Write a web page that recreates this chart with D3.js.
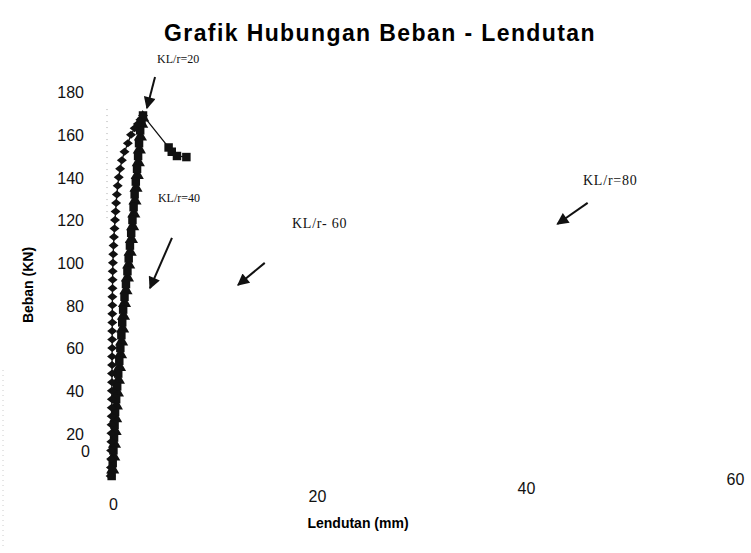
<html lang="en">
<head>
    <meta charset="UTF-8"/>
    <title>Grafik Hubungan Beban - Lendutan</title>
    <style>
        body { margin: 0; background: #fff; }
        svg { display: block; }
        .tick text { font-family: "Liberation Sans", Arial, sans-serif; font-size: 16px; fill: #111; }
        .note { font-family: "Liberation Serif", "Times New Roman", serif; fill: #111; }
    </style>
</head>
<body>
<svg width="751" height="553"></svg>
<script src="https://d3js.org/d3.v7.min.js"></script>
<script>
    // series A (diamonds): load (kN) and deflection (mm)
    const seriesALoad = [0, 4, 8, 12, 16, 20, 24, 28, 32, 36, 40, 44, 48, 52, 56, 60, 64, 68, 72, 76, 80, 84, 88, 92, 96,
        100, 104, 108, 112, 116, 120, 124, 128, 132, 136, 140, 144, 148, 152, 156, 160, 163, 165, 167, 169];
    const seriesADefl = [0.25, 0.28, 0.3, 0.3, 0.32, 0.33, 0.34, 0.35, 0.36, 0.37, 0.37, 0.38, 0.38, 0.39, 0.39, 0.4, 0.4,
        0.4, 0.41, 0.41, 0.42, 0.42, 0.43, 0.44, 0.45, 0.47, 0.5, 0.53, 0.57, 0.62, 0.67, 0.73, 0.78, 0.85, 0.93, 1.03,
        1.16, 1.33, 1.58, 1.9, 2.2, 2.55, 2.85, 3.1, 3.35];

    // series B (squares), includes the descending branch after the peak
    const seriesBLoad = [0, 6, 12, 18, 24, 30, 36, 42, 48, 54, 60, 66, 72, 78, 84, 90, 96, 102, 108, 114, 120, 126, 132,
        138, 144, 150, 156, 162, 166, 169, 154, 152, 150, 149.5];
    const seriesBDefl = [0.35, 0.45, 0.52, 0.58, 0.63, 0.68, 0.78, 0.88, 0.98, 1.08, 1.18, 1.28, 1.36, 1.45, 1.58, 1.72,
        1.86, 1.98, 2.1, 2.22, 2.34, 2.45, 2.55, 2.66, 2.78, 2.88, 2.97, 3.08, 3.2, 3.35, 5.8, 6.1, 6.6, 7.5];

    // series C (triangles)
    const seriesCLoad = [3, 9, 15, 21, 27, 33, 39, 45, 51, 57, 63, 69, 75, 81, 87, 93, 99, 105, 111, 117, 123, 129, 135,
        141, 147, 153, 159, 165, 168];
    const seriesCDefl = [0.45, 0.55, 0.62, 0.68, 0.73, 0.8, 0.9, 1.0, 1.1, 1.2, 1.3, 1.4, 1.48, 1.58, 1.72, 1.86, 1.98,
        2.12, 2.24, 2.36, 2.47, 2.58, 2.68, 2.8, 2.9, 3.0, 3.1, 3.22, 3.32];

    const xTicks = [0, 20, 40, 60];
    const yTicks = [0, 20, 40, 60, 80, 100, 120, 140, 160, 180];

    // annotations in data units: label, text anchor point, arrow start, arrow tip
    const noteLabels = ["KL/r=20", "KL/r=40", "KL/r- 60", "KL/r=80"];
    const noteText = [[4.7, 193.6], [4.78, 128.5], [17.6, 116.3], [45.45, 136.4]];
    const arrowFrom = [[4.5, 187], [6.12, 111.6], [15.0, 99.9], [45.9, 128]];
    const arrowTo = [[3.73, 172.5], [4.02, 88.1], [12.44, 89.5], [43.0, 118.1]];

    const svg = d3.select("svg");

    const x = d3.scaleLinear().domain([0, 60]).range([108, 735]);
    const y = d3.scaleLinear().domain([0, 180]).range([476, 92]);

    // faint scan traces of the axis
    svg.append("line")
        .attr("x1", x(0) - 1).attr("x2", x(0) - 1).attr("y1", y(172)).attr("y2", y(120))
        .attr("stroke", "#aaa").attr("stroke-width", 1).attr("stroke-dasharray", "1,5");
    svg.append("line")
        .attr("x1", 3).attr("x2", 3).attr("y1", 370).attr("y2", 548)
        .attr("stroke", "#ccc").attr("stroke-width", 1).attr("stroke-dasharray", "1,4");

    // title
    svg.append("text")
        .attr("x", 380).attr("y", 41)
        .attr("text-anchor", "middle")
        .style("font-family", "'Liberation Sans', Arial, sans-serif")
        .style("font-size", "23px").style("font-weight", "bold").style("letter-spacing", "1.4px")
        .text("Grafik Hubungan Beban - Lendutan");

    // axes (labels only, no axis lines)
    const yAxis = svg.append("g")
        .attr("transform", "translate(84,0)")
        .call(d3.axisLeft(y).tickValues(yTicks).tickSize(0).tickPadding(0));
    yAxis.select(".domain").remove();
    yAxis.selectAll(".tick text")
        .attr("dy", "0.36em")
        .attr("dx", d => d === 0 ? 6 : 0)
        .attr("y", d => d === 0 ? -25 : 0);

    const xAxis = svg.append("g")
        .attr("transform", "translate(0,497)")
        .call(d3.axisBottom(x).tickValues(xTicks).tickSize(0).tickPadding(0));
    xAxis.select(".domain").remove();
    // the scanned page is slightly skewed: labels climb to the right
    xAxis.selectAll(".tick text")
        .attr("dx", d => d === 0 ? 5 : 0)
        .attr("y", d => 2 - d * 0.42);

    svg.append("text")
        .attr("x", 358).attr("y", 528)
        .attr("text-anchor", "middle")
        .style("font-family", "'Liberation Sans', Arial, sans-serif")
        .style("font-size", "14px").style("font-weight", "bold")
        .text("Lendutan (mm)");

    svg.append("text")
        .attr("transform", "translate(33,285) rotate(-90)")
        .attr("text-anchor", "middle")
        .style("font-family", "'Liberation Sans', Arial, sans-serif")
        .style("font-size", "14px").style("font-weight", "bold")
        .text("Beban (KN)");

    // wide diamond used by series A
    const wideDiamond = {
        draw(ctx, size) {
            const w = Math.sqrt(size) * 0.62, h = w * 0.8;
            ctx.moveTo(0, -h);
            ctx.lineTo(w, 0);
            ctx.lineTo(0, h);
            ctx.lineTo(-w, 0);
            ctx.closePath();
        }
    };

    const line = d3.line().x(d => x(d[0])).y(d => y(d[1]));

    function drawSeries(defl, load, symbolType, size) {
        const pts = defl.map((d, i) => [d, load[i]]);
        const g = svg.append("g");
        g.append("path")
            .attr("d", line(pts))
            .attr("fill", "none")
            .attr("stroke", "#111")
            .attr("stroke-width", 1.3);
        g.selectAll("path.pt")
            .data(pts)
            .enter()
            .append("path")
            .attr("class", "pt")
            .attr("transform", d => `translate(${x(d[0])},${y(d[1])})`)
            .attr("d", d3.symbol().type(symbolType).size(size))
            .attr("fill", "#111");
    }

    drawSeries(seriesCDefl, seriesCLoad, d3.symbolTriangle, 75);
    drawSeries(seriesBDefl, seriesBLoad, d3.symbolSquare, 72);
    drawSeries(seriesADefl, seriesALoad, wideDiamond, 65);

    // annotation arrows
    svg.append("defs").append("marker")
        .attr("id", "head")
        .attr("viewBox", "0 0 10 10")
        .attr("refX", 9).attr("refY", 5)
        .attr("markerWidth", 15).attr("markerHeight", 12)
        .attr("markerUnits", "userSpaceOnUse")
        .attr("orient", "auto")
        .append("path")
        .attr("d", "M0,0 L10,5 L0,10 z")
        .attr("fill", "#111");

    noteLabels.forEach((label, i) => {
        svg.append("text")
            .attr("class", "note")
            .attr("x", x(noteText[i][0]))
            .attr("y", y(noteText[i][1]))
            .style("font-size", i < 2 ? "12px" : "14px")
            .style("letter-spacing", i < 2 ? "0px" : "0.8px")
            .text(label);
        svg.append("line")
            .attr("x1", x(arrowFrom[i][0])).attr("y1", y(arrowFrom[i][1]))
            .attr("x2", x(arrowTo[i][0])).attr("y2", y(arrowTo[i][1]))
            .attr("stroke", "#111").attr("stroke-width", 2)
            .attr("marker-end", "url(#head)");
    });
</script>
</body>
</html>
